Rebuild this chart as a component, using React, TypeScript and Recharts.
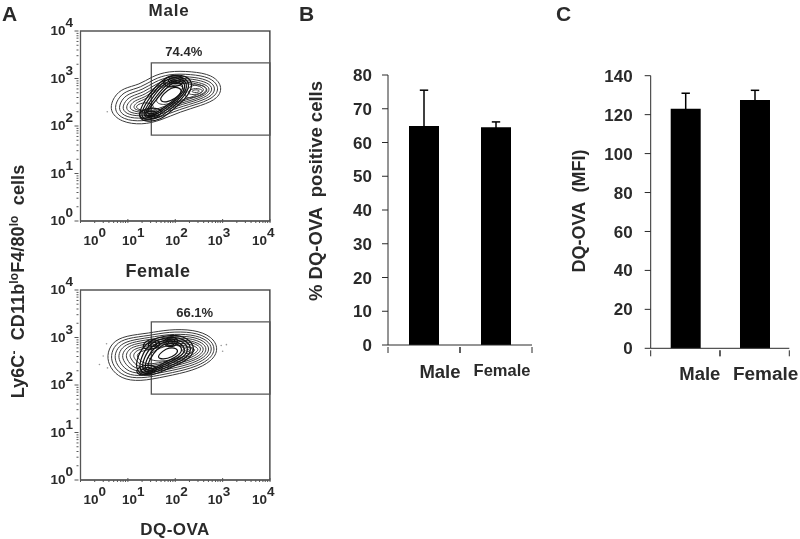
import {
  BarChart,
  Bar,
  ErrorBar,
  ScatterChart,
  Scatter,
  XAxis,
  YAxis,
  ReferenceArea,
  ReferenceDot,
} from "recharts";

type Pt = number[];

// flow plots, every coordinate is in decades (log10 of the fluorescence)
const decades = [0, 1, 2, 3, 4];
const logSteps = [0.3, 0.48, 0.6, 0.7, 0.78, 0.85, 0.9, 0.95];
const gateX = [1.495, 4];
const gateY = [1.81, 3.33];

const maleContours: Pt[][] = [
  [[.6,2.32],[.7,2.62],[.9,2.8],[1.25,2.87],[1.5,3.04],[1.85,3.16],[2.35,3.15],[2.78,3.08],[3,2.85],[2.92,2.58],[2.55,2.43],[2.1,2.3],[1.7,2.12],[1.3,2.02],[.85,2.08]],
  [[.7,2.33],[.78,2.57],[.95,2.74],[1.28,2.81],[1.53,2.98],[1.87,3.1],[2.33,3.09],[2.73,3.03],[2.93,2.84],[2.86,2.62],[2.52,2.47],[2.08,2.35],[1.68,2.18],[1.3,2.09],[.9,2.13]],
  [[.79,2.34],[.86,2.54],[1,2.68],[1.31,2.76],[1.56,2.93],[1.88,3.05],[2.31,3.04],[2.68,2.98],[2.86,2.83],[2.8,2.64],[2.5,2.51],[2.06,2.39],[1.66,2.23],[1.32,2.15],[.95,2.18]],
  [[.87,2.36],[.94,2.52],[1.06,2.63],[1.34,2.71],[1.58,2.88],[1.9,3.01],[2.29,3],[2.63,2.94],[2.8,2.82],[2.74,2.66],[2.47,2.54],[2.04,2.43],[1.65,2.27],[1.34,2.2],[1,2.23]],
  [[.95,2.37],[1.01,2.5],[1.12,2.59],[1.37,2.66],[1.6,2.84],[1.91,2.97],[2.27,2.96],[2.58,2.9],[2.74,2.81],[2.69,2.68],[2.45,2.57],[2.03,2.46],[1.64,2.3],[1.36,2.24],[1.05,2.27]],
  [[1.03,2.38],[1.08,2.48],[1.18,2.55],[1.4,2.62],[1.62,2.81],[1.92,2.94],[2.25,2.93],[2.54,2.87],[2.68,2.79],[2.63,2.7],[2.42,2.6],[2.02,2.49],[1.64,2.33],[1.38,2.27],[1.11,2.31]],
  [[1.11,2.39],[1.16,2.47],[1.24,2.52],[1.43,2.59],[1.64,2.78],[1.93,2.91],[2.23,2.9],[2.49,2.85],[2.62,2.78],[2.57,2.71],[2.39,2.62],[2.01,2.51],[1.64,2.36],[1.41,2.3],[1.18,2.33]],
  [[1.55,2.5],[1.68,2.68],[1.88,2.86],[2.15,2.88],[2.22,2.7],[2.05,2.55],[1.78,2.42]],
  [[2.2,2.76],[2.4,2.88],[2.6,2.86],[2.7,2.76],[2.6,2.66],[2.4,2.6],[2.2,2.58]],
  [[2.25,2.72],[2.38,2.8],[2.55,2.78],[2.6,2.72],[2.45,2.66],[2.3,2.66]],
  [[2.33,2.73],[2.42,2.77],[2.52,2.75],[2.5,2.71],[2.4,2.7]],
  [[1.15,2.4],[1.25,2.48],[1.45,2.5],[1.58,2.4],[1.45,2.32],[1.25,2.33]],
];
const maleDark: Pt[][] = [
  [[1.2,2.2],[1.35,2.55],[1.6,2.85],[1.85,3.07],[2.25,3.08],[2.4,2.85],[2.2,2.55],[1.95,2.35],[1.7,2.12],[1.35,2.08]],
  [[1.25,2.22],[1.4,2.52],[1.63,2.82],[1.87,3.03],[2.2,3.04],[2.33,2.85],[2.15,2.57],[1.93,2.38],[1.68,2.17],[1.38,2.12]],
  [[1.3,2.24],[1.45,2.5],[1.66,2.79],[1.9,2.99],[2.17,3],[2.28,2.84],[2.12,2.59],[1.9,2.41],[1.66,2.21],[1.4,2.16]],
  [[1.34,2.26],[1.5,2.49],[1.7,2.76],[1.92,2.95],[2.14,2.96],[2.24,2.83],[2.08,2.6],[1.87,2.43],[1.64,2.25],[1.43,2.2]],
  [[1.38,2.28],[1.54,2.48],[1.74,2.73],[1.94,2.92],[2.11,2.92],[2.19,2.82],[2.05,2.6],[1.84,2.45],[1.62,2.28],[1.46,2.24]],
  [[1.65,2.55],[1.76,2.68],[1.9,2.81],[2.1,2.82],[2.15,2.7],[2,2.58],[1.8,2.48]],
  [[1.72,2.95],[1.9,3.08],[2.15,3.06],[2.2,2.9],[2,2.82],[1.8,2.82]],
  [[1.8,2.95],[1.95,3.03],[2.1,3],[2.12,2.92],[1.98,2.87]],
  [[1.88,2.95],[1.98,2.98],[2.05,2.95],[1.97,2.91]],
  [[1.2,2.27],[1.4,2.38],[1.65,2.38],[1.75,2.28],[1.55,2.15],[1.3,2.13]],
  [[1.32,2.26],[1.45,2.32],[1.62,2.31],[1.6,2.22],[1.42,2.18]],
  [[1.42,2.25],[1.52,2.28],[1.56,2.23],[1.47,2.21]],
];
const maleOutliers: Pt[] = [[.565,2.3]];

const femaleContours: Pt[][] = [
  [[.55,2.62],[.66,2.9],[.95,3.04],[1.45,3.09],[1.85,3.17],[2.4,3.17],[2.78,3.02],[2.92,2.76],[2.78,2.5],[2.38,2.3],[1.8,2.18],[1.25,2.07],[.85,2.13],[.62,2.36]],
  [[.63,2.62],[.73,2.86],[.98,2.99],[1.46,3.04],[1.85,3.12],[2.38,3.12],[2.73,2.98],[2.86,2.76],[2.73,2.53],[2.36,2.35],[1.8,2.23],[1.27,2.13],[.9,2.18],[.69,2.39]],
  [[.71,2.62],[.8,2.82],[1.02,2.94],[1.47,3],[1.85,3.07],[2.36,3.07],[2.68,2.95],[2.8,2.76],[2.68,2.56],[2.33,2.39],[1.8,2.28],[1.3,2.18],[.96,2.22],[.76,2.42]],
  [[.79,2.62],[.87,2.79],[1.06,2.9],[1.48,2.96],[1.85,3.03],[2.34,3.03],[2.63,2.92],[2.74,2.76],[2.63,2.58],[2.3,2.43],[1.8,2.32],[1.33,2.23],[1.01,2.27],[.84,2.45]],
  [[.87,2.62],[.94,2.76],[1.1,2.86],[1.49,2.92],[1.85,2.99],[2.32,2.99],[2.58,2.89],[2.68,2.76],[2.58,2.6],[2.28,2.47],[1.8,2.36],[1.36,2.27],[1.07,2.31],[.92,2.48]],
  [[.95,2.62],[1.01,2.74],[1.14,2.82],[1.5,2.88],[1.85,2.95],[2.3,2.95],[2.53,2.86],[2.62,2.76],[2.53,2.62],[2.26,2.5],[1.8,2.4],[1.39,2.31],[1.13,2.35],[1,2.5]],
  [[1.03,2.62],[1.08,2.71],[1.18,2.78],[1.51,2.84],[1.85,2.92],[2.28,2.92],[2.48,2.84],[2.56,2.76],[2.48,2.65],[2.24,2.53],[1.8,2.44],[1.42,2.35],[1.19,2.39],[1.08,2.53]],
  [[1.11,2.62],[1.15,2.69],[1.23,2.75],[1.52,2.8],[1.85,2.88],[2.26,2.88],[2.43,2.81],[2.5,2.75],[2.43,2.67],[2.22,2.56],[1.8,2.47],[1.45,2.39],[1.25,2.43],[1.15,2.54]],
  [[1.19,2.62],[1.22,2.67],[1.3,2.72],[1.55,2.76],[1.85,2.84],[2.2,2.84],[2.37,2.78],[2.43,2.74],[2.37,2.69],[2.2,2.59],[1.8,2.5],[1.48,2.43],[1.3,2.47],[1.22,2.56]],
  [[1.35,2.55],[1.55,2.72],[1.82,2.84],[2.12,2.84],[2.25,2.72],[2.05,2.56],[1.7,2.48]],
  [[2.12,2.72],[2.22,2.8],[2.36,2.78],[2.38,2.7],[2.25,2.64]],
  [[2.2,2.72],[2.27,2.76],[2.32,2.72],[2.25,2.69]],
];
const femaleDark: Pt[][] = [
  [[1.15,2.28],[1.2,2.62],[1.4,2.92],[1.85,3.07],[2.25,3.02],[2.45,2.75],[2.25,2.5],[1.8,2.33],[1.45,2.16]],
  [[1.22,2.3],[1.28,2.6],[1.45,2.88],[1.85,3.03],[2.2,2.98],[2.38,2.75],[2.2,2.53],[1.78,2.36],[1.45,2.2]],
  [[1.28,2.32],[1.34,2.58],[1.5,2.84],[1.85,2.99],[2.15,2.94],[2.31,2.75],[2.15,2.56],[1.76,2.39],[1.46,2.24]],
  [[1.34,2.34],[1.4,2.56],[1.55,2.8],[1.85,2.95],[2.1,2.9],[2.24,2.74],[2.1,2.58],[1.74,2.42],[1.48,2.28]],
  [[1.4,2.36],[1.46,2.54],[1.6,2.76],[1.85,2.91],[2.06,2.87],[2.17,2.74],[2.05,2.6],[1.72,2.45],[1.5,2.32]],
  [[1.6,2.58],[1.74,2.72],[1.86,2.79],[2.04,2.78],[2.06,2.68],[1.95,2.6],[1.74,2.53]],
  [[1.7,2.88],[1.85,3.02],[2.05,3],[2.05,2.85],[1.9,2.78]],
  [[1.76,2.88],[1.87,2.98],[2,2.96],[2,2.86],[1.9,2.82]],
  [[1.82,2.88],[1.89,2.94],[1.96,2.92],[1.96,2.87]],
  [[1.15,2.3],[1.3,2.42],[1.55,2.42],[1.65,2.32],[1.45,2.22],[1.25,2.2]],
  [[1.25,2.3],[1.35,2.37],[1.52,2.36],[1.55,2.3],[1.42,2.25],[1.3,2.25]],
  [[1.33,2.31],[1.42,2.33],[1.48,2.3],[1.4,2.27]],
  [[1.3,2.85],[1.45,2.97],[1.65,2.95],[1.7,2.82],[1.5,2.75],[1.35,2.75]],
  [[1.4,2.85],[1.5,2.92],[1.6,2.9],[1.62,2.83],[1.5,2.8]],
];
const femaleOutliers: Pt[] = [[.4,2.43],[.48,2.61],[.55,2.87],[.57,2.36],[3,2.71],[3.08,2.85],[2.97,2.83]];

// bar panels
const groups = ["Male", "Female"];
const positiveCells = [64.9, 64.5];
const positiveCellsErr = [10.6, 1.6];
const positiveTicks = [0, 10, 20, 30, 40, 50, 60, 70, 80];
const mfi = [123, 127.5];
const mfiErr = [8, 5];
const mfiTicks = [0, 20, 40, 60, 80, 100, 120, 140];

const FONT = "'Liberation Sans', Arial, sans-serif";
const INK = "#2a2a2a";
const GREY = "#555";

const toPoints = (c: Pt[]) => c.map(([x, y]) => ({ x, y }));
const allTicks = decades.flatMap((d) =>
  d === 4 ? [d] : [d, ...logSteps.map((s) => d + s)],
);

const noDot = () => <g />;

function LogYTick({ x, y, payload }: any) {
  const major = Number.isInteger(payload.value);
  return (
    <g>
      <line x1={x - (major ? 4 : 2)} x2={x} y1={y} y2={y} stroke={GREY} />
      {major && (
        <text x={x - 5.5} y={y + 4} textAnchor="end" fontSize={13.5} fontWeight="bold" fill={INK} fontFamily={FONT}>
          10
          <tspan dy={-8}>{payload.value}</tspan>
        </text>
      )}
    </g>
  );
}

const xLabelShift = [3, -6, -10, -15, -18];

function LogXTick({ x, y, payload }: any) {
  const major = Number.isInteger(payload.value);
  return (
    <g>
      <line x1={x} x2={x} y1={y} y2={y - (major ? 4 : 2)} stroke={GREY} />
      {major && (
        <text x={x + xLabelShift[payload.value]} y={y + 22} fontSize={13.5} fontWeight="bold" fill={INK} fontFamily={FONT}>
          10
          <tspan dy={-8}>{payload.value}</tspan>
        </text>
      )}
    </g>
  );
}

function FlowPlot({ contours, dark, outliers, percent, percentAt, top }: any) {
  return (
    <div style={{ position: "absolute", left: 0, top }}>
      <ScatterChart width={290} height={250} margin={{ top: 21, right: 20, bottom: 0, left: 0 }}>
        <XAxis
          type="number"
          dataKey="x"
          domain={[0, 4]}
          ticks={allTicks}
          interval={0}
          height={39}
          tick={LogXTick}
          tickLine={false}
          tickSize={0}
          axisLine={{ stroke: GREY }}
        />
        <YAxis
          type="number"
          dataKey="y"
          domain={[0, 4]}
          ticks={allTicks}
          interval={0}
          width={80.5}
          tick={LogYTick}
          tickLine={false}
          tickSize={0}
          axisLine={{ stroke: GREY }}
        />
        <ReferenceArea x1={0} x2={4} y1={0} y2={4} fill="none" stroke={GREY} strokeWidth={1.3} />
        <ReferenceArea x1={3.98} x2={4} y1={0} y2={4} fill={INK} stroke="none" />
        <ReferenceArea x1={gateX[0]} x2={gateX[1]} y1={gateY[0]} y2={gateY[1]} fill="none" stroke={GREY} strokeWidth={1.3} />
        {contours.map((c: Pt[], i: number) => (
          <Scatter
            key={"c" + i}
            data={toPoints(c)}
            shape={noDot}
            line={{ stroke: "#3a3a3a", strokeWidth: 1 }}
            lineJointType="basisClosed"
            isAnimationActive={false}
          />
        ))}
        {dark.map((c: Pt[], i: number) => (
          <Scatter
            key={"d" + i}
            data={toPoints(c)}
            shape={noDot}
            line={{ stroke: "#111", strokeWidth: 1.2 }}
            lineJointType="basisClosed"
            isAnimationActive={false}
          />
        ))}
        <Scatter data={toPoints(outliers)} fill="#aaa" shape={(p: any) => <circle cx={p.cx} cy={p.cy} r={0.8} fill="#999" />} isAnimationActive={false} />
        <ReferenceDot
          x={percentAt[0]}
          y={percentAt[1]}
          r={0}
          label={{ value: percent, position: "center", fontSize: 13, fontWeight: "bold", fill: INK, fontFamily: FONT }}
        />
      </ScatterChart>
    </div>
  );
}

function GroupPanel({ left, top, width, height, plotLeft, plotRight, plotTop, data, ticks, max, labels, band, labelGap }: any) {
  const GroupTick = ({ x, y, index }: any) => {
    const l = labels[index];
    return (
      <g>
        <line x1={x - band / 2} x2={x - band / 2} y1={y - 6} y2={y} stroke={INK} />
        <line x1={x + band / 2} x2={x + band / 2} y1={y - 6} y2={y} stroke={INK} />
        <text x={x + l.dx} y={y + l.dy - 6} textAnchor="middle" fontSize={l.size} fontWeight="bold" fill={INK} fontFamily={FONT}>
          {groups[index]}
        </text>
      </g>
    );
  };
  return (
    <div style={{ position: "absolute", left, top }}>
      <BarChart
        width={width}
        height={height}
        data={data}
        barSize={30}
        margin={{ top: plotTop, right: plotRight, bottom: 0, left: 0 }}
      >
        <XAxis
          dataKey="group"
          height={45}
          interval={0}
          tick={GroupTick}
          tickLine={false}
          tickSize={6}
          axisLine={{ stroke: INK }}
        />
        <YAxis
          type="number"
          domain={[0, max]}
          ticks={ticks}
          interval={0}
          width={plotLeft}
          tickSize={6}
          tickMargin={labelGap}
          tick={{ fontSize: 17, fontWeight: "bold", fill: INK, fontFamily: FONT }}
          tickLine={{ stroke: INK }}
          axisLine={{ stroke: INK }}
        />
        <Bar dataKey="value" fill="#000" isAnimationActive={false}>
          <ErrorBar dataKey="err" direction="y" width={4.2} stroke="#000" strokeWidth={1.5} isAnimationActive={false} />
        </Bar>
      </BarChart>
    </div>
  );
}

const toRows = (values: number[], errs: number[]) =>
  groups.map((group, i) => ({ group, value: values[i], err: errs[i] }));

export default function App() {
  const labelStyle = { fontFamily: FONT, fontWeight: "bold" as const, fill: INK };
  return (
    <div
      style={{
        position: "absolute",
        left: 0,
        top: 0,
        width: 800,
        height: 539,
        background: "#fff",
        overflow: "hidden",
        filter: "blur(0.4px)",
      }}
    >
      <FlowPlot
        top={10}
        contours={maleContours}
        dark={maleDark}
        outliers={maleOutliers}
        percent="74.4%"
        percentAt={[2.18, 3.58]}
      />
      <FlowPlot
        top={269}
        contours={femaleContours}
        dark={femaleDark}
        outliers={femaleOutliers}
        percent="66.1%"
        percentAt={[2.41, 3.53]}
      />
      <GroupPanel
        left={330}
        top={60}
        width={215}
        height={330}
        plotLeft={58}
        plotRight={13}
        plotTop={15}
        band={72}
        labelGap={10}
        data={toRows(positiveCells, positiveCellsErr)}
        ticks={positiveTicks}
        max={80}
        labels={[
          { dx: 16, dy: 31, size: 18.5 },
          { dx: 6, dy: 29, size: 16.5 },
        ]}
      />
      <GroupPanel
        left={590}
        top={60}
        width={210}
        height={333.3}
        plotLeft={60.7}
        plotRight={10.7}
        plotTop={15.7}
        band={69.3}
        labelGap={12}
        data={toRows(mfi, mfiErr)}
        ticks={mfiTicks}
        max={140}
        labels={[
          { dx: 14.5, dy: 30, size: 18.5 },
          { dx: 11, dy: 30, size: 19 },
        ]}
      />
      <svg width={800} height={539} style={{ position: "absolute", left: 0, top: 0, pointerEvents: "none" }}>
        <text x={2} y={21} fontSize={21} {...labelStyle}>A</text>
        <text x={299} y={21} fontSize={21} {...labelStyle}>B</text>
        <text x={556} y={21} fontSize={21} {...labelStyle}>C</text>
        <text x={169} y={16} fontSize={17} letterSpacing={0.8} textAnchor="middle" {...labelStyle}>Male</text>
        <text x={158} y={277} fontSize={18} letterSpacing={0.5} textAnchor="middle" {...labelStyle}>Female</text>
        <text x={175} y={535} fontSize={17} letterSpacing={0.5} textAnchor="middle" {...labelStyle}>DQ-OVA</text>
        <text transform="translate(24 281.5) rotate(-90)" fontSize={18} letterSpacing={0.1} textAnchor="middle" style={{ whiteSpace: "pre" }} {...labelStyle}>
          Ly6C
          <tspan dy={-6} fontSize={12}>-</tspan>
          <tspan dy={6}>{"  CD11b"}</tspan>
          <tspan dy={-6} fontSize={12}>lo</tspan>
          <tspan dy={6}>F4/80</tspan>
          <tspan dy={-6} fontSize={12}>lo</tspan>
          <tspan dy={6}>{"  cells"}</tspan>
        </text>
        <text transform="translate(322 191) rotate(-90)" fontSize={18.5} textAnchor="middle" style={{ whiteSpace: "pre" }} {...labelStyle}>
          {"% DQ-OVA  positive cells"}
        </text>
        <text transform="translate(585 211) rotate(-90)" fontSize={18} textAnchor="middle" style={{ whiteSpace: "pre" }} {...labelStyle}>
          {"DQ-OVA  (MFI)"}
        </text>
      </svg>
    </div>
  );
}
